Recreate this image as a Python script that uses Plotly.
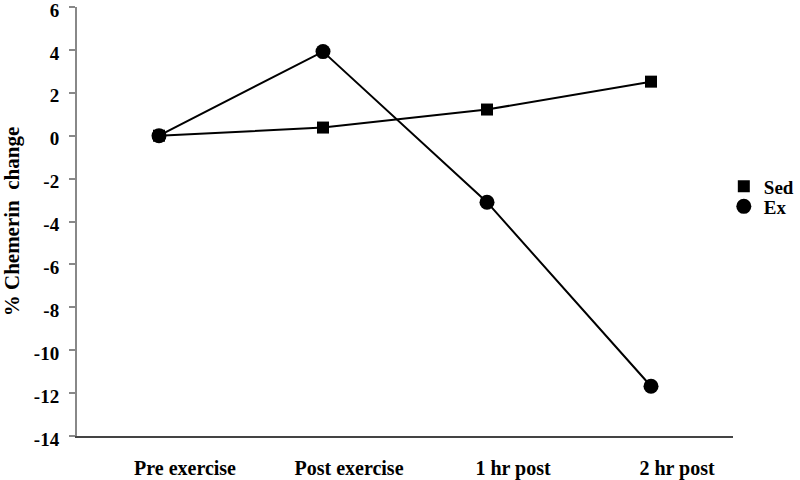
import plotly.graph_objects as go

categories = ["Pre exercise", "Post exercise", "1 hr post", "2 hr post"]
sed_values = [0, 0.38, 1.22, 2.52]
ex_values = [0, 3.92, -3.1, -11.68]
y_ticks = [6, 4, 2, 0, -2, -4, -6, -8, -10, -12, -14]

font_family = "'Liberation Serif', 'Times New Roman', Times, serif"

fig = go.Figure()
# connecting lines (no legend)
fig.add_trace(go.Scatter(x=categories, y=sed_values, mode="lines", showlegend=False,
                         line=dict(color="black", width=2), hoverinfo="skip"))
fig.add_trace(go.Scatter(x=categories, y=ex_values, mode="lines", showlegend=False,
                         line=dict(color="black", width=2), hoverinfo="skip"))
# markers (legend)
fig.add_trace(go.Scatter(
    x=categories, y=sed_values, name="<b>Sed</b>", mode="markers",
    marker=dict(symbol="square", size=12, color="black"), legend="legend",
))
fig.add_trace(go.Scatter(
    x=categories, y=ex_values, name="<b>Ex</b>", mode="markers",
    marker=dict(symbol="circle", size=15, color="black"), legend="legend2",
))

leg_common = dict(xanchor="left", yanchor="middle", font=dict(size=19, family=font_family),
                  bgcolor="rgba(0,0,0,0)", itemwidth=30)

fig.update_layout(
    width=800, height=480,
    margin=dict(l=77, r=67, t=7, b=44, autoexpand=False),
    paper_bgcolor="white", plot_bgcolor="white",
    font=dict(family=font_family, color="black"),
    showlegend=True,
    legend=dict(x=0.986, y=0.582, **leg_common),
    legend2=dict(x=0.986, y=0.535, **leg_common),
    xaxis=dict(
        type="category", range=[-0.5, 3.5], automargin=False,
        showline=True, linecolor="#444", linewidth=2,
        showgrid=False, zeroline=False,
        ticks="", tickfont=dict(size=20, family=font_family),
        tickvals=categories, ticktext=["<b>%s</b>" % c for c in categories],
        ticklabelstandoff=13, ticklabelshift=26,
    ),
    yaxis=dict(
        range=[-14, 6], tickvals=y_ticks, automargin=False,
        ticktext=["<b>%d</b>" % v for v in y_ticks],
        showline=True, linecolor="#888", linewidth=2,
        showgrid=False, zeroline=False,
        ticks="outside", ticklen=6, tickcolor="#888", tickwidth=1.5,
        tickfont=dict(size=19, family=font_family),
        ticklabelstandoff=6, ticklabeloverflow="allow", ticklabelshift=3,
        title=dict(text="<b>% Chemerin  change</b>",
                   font=dict(size=21, family=font_family), standoff=36),
    ),
)

fig.write_html("out.html", config={"displayModeBar": False},
               post_script="document.body.style.margin='0';")
